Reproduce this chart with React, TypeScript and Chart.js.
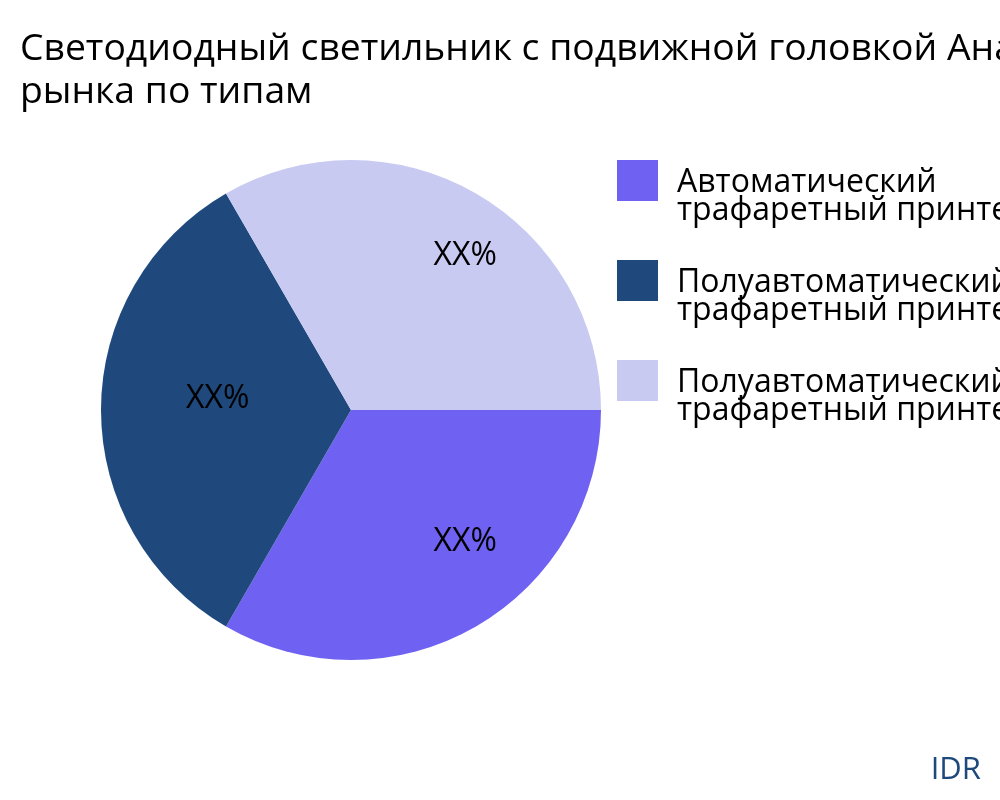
import React, { useEffect, useRef } from "react";
import { Chart, registerables } from "chart.js";

Chart.register(...registerables);

const titleLines: string[] = [
  "Светодиодный светильник с подвижной головкой Анализ",
  "рынка по типам",
];
const categories: string[][] = [
  ["Автоматический", "трафаретный принтер"],
  ["Полуавтоматический", "трафаретный принтер"],
  ["Полуавтоматический", "трафаретный принтер"],
];
const values: number[] = [1, 1, 1];
const sliceLabels: string[] = ["XX%", "XX%", "XX%"];
const colors: string[] = ["#6f61f2", "#1f497d", "#c9caf2"];
const sourceText = "IDR";

const FONT = "'Open Sans', 'Noto Sans', sans-serif";

const overlayPlugin = {
  id: "overlay",
  afterDraw(chart: any) {
    const ctx: CanvasRenderingContext2D = chart.ctx;
    ctx.save();
    // title
    ctx.fillStyle = "#000";
    ctx.font = `37.3px ${FONT}`;
    ctx.textAlign = "left";
    ctx.textBaseline = "alphabetic";
    titleLines.forEach((t, i) => ctx.fillText(t, 20, 60 + i * 43));

    // slice labels
    const meta = chart.getDatasetMeta(0);
    ctx.font = `32px ${FONT}`;
    ctx.textAlign = "left";
    ctx.textBaseline = "middle";
    meta.data.forEach((arc: any, i: number) => {
      const { x, y, startAngle, endAngle, outerRadius } = arc.getProps(
        ["x", "y", "startAngle", "endAngle", "outerRadius"],
        true
      );
      const mid = (startAngle + endAngle) / 2;
      const r = outerRadius * 0.66;
      ctx.fillStyle = "#000";
      ctx.fillText(sliceLabels[i], x + Math.cos(mid) * r, y + Math.sin(mid) * r - 11);
    });

    // legend
    const area = chart.chartArea;
    const lx = area.right + 16;
    categories.forEach((lines, i) => {
      const top = area.top + i * 100;
      ctx.fillStyle = colors[i];
      ctx.fillRect(lx, top, 41, 41);
      ctx.fillStyle = "#000";
      ctx.font = `32px ${FONT}`;
      ctx.textAlign = "left";
      ctx.textBaseline = "alphabetic";
      lines.forEach((ln, j) => ctx.fillText(ln, lx + 60, top + 32 + j * 28));
    });

    // source
    ctx.fillStyle = "#1f497d";
    ctx.font = `31px ${FONT}`;
    ctx.textAlign = "right";
    ctx.fillText(sourceText, 981, 779);
    ctx.restore();
  },
};

export default function App() {
  const ref = useRef<HTMLCanvasElement | null>(null);
  useEffect(() => {
    document.body.style.margin = "0";
    if (!ref.current) return;
    const chart = new Chart(ref.current, {
      type: "pie",
      data: {
        labels: categories.map((c) => c.join(" ")),
        datasets: [
          {
            data: values,
            backgroundColor: colors,
            borderWidth: 0,
          },
        ],
      },
      options: {
        responsive: false,
        animation: false,
        rotation: 90,
        layout: { padding: { left: 101, right: 399, top: 160, bottom: 140 } },
        plugins: {
          legend: { display: false },
          title: { display: false },
          tooltip: { enabled: false },
        },
      },
      plugins: [overlayPlugin],
    });
    return () => chart.destroy();
  }, []);
  return (
    <div style={{ position: "absolute", left: 0, top: 0, width: 1000, height: 800, background: "#fff" }}>
      <canvas ref={ref} width={1000} height={800} />
    </div>
  );
}
